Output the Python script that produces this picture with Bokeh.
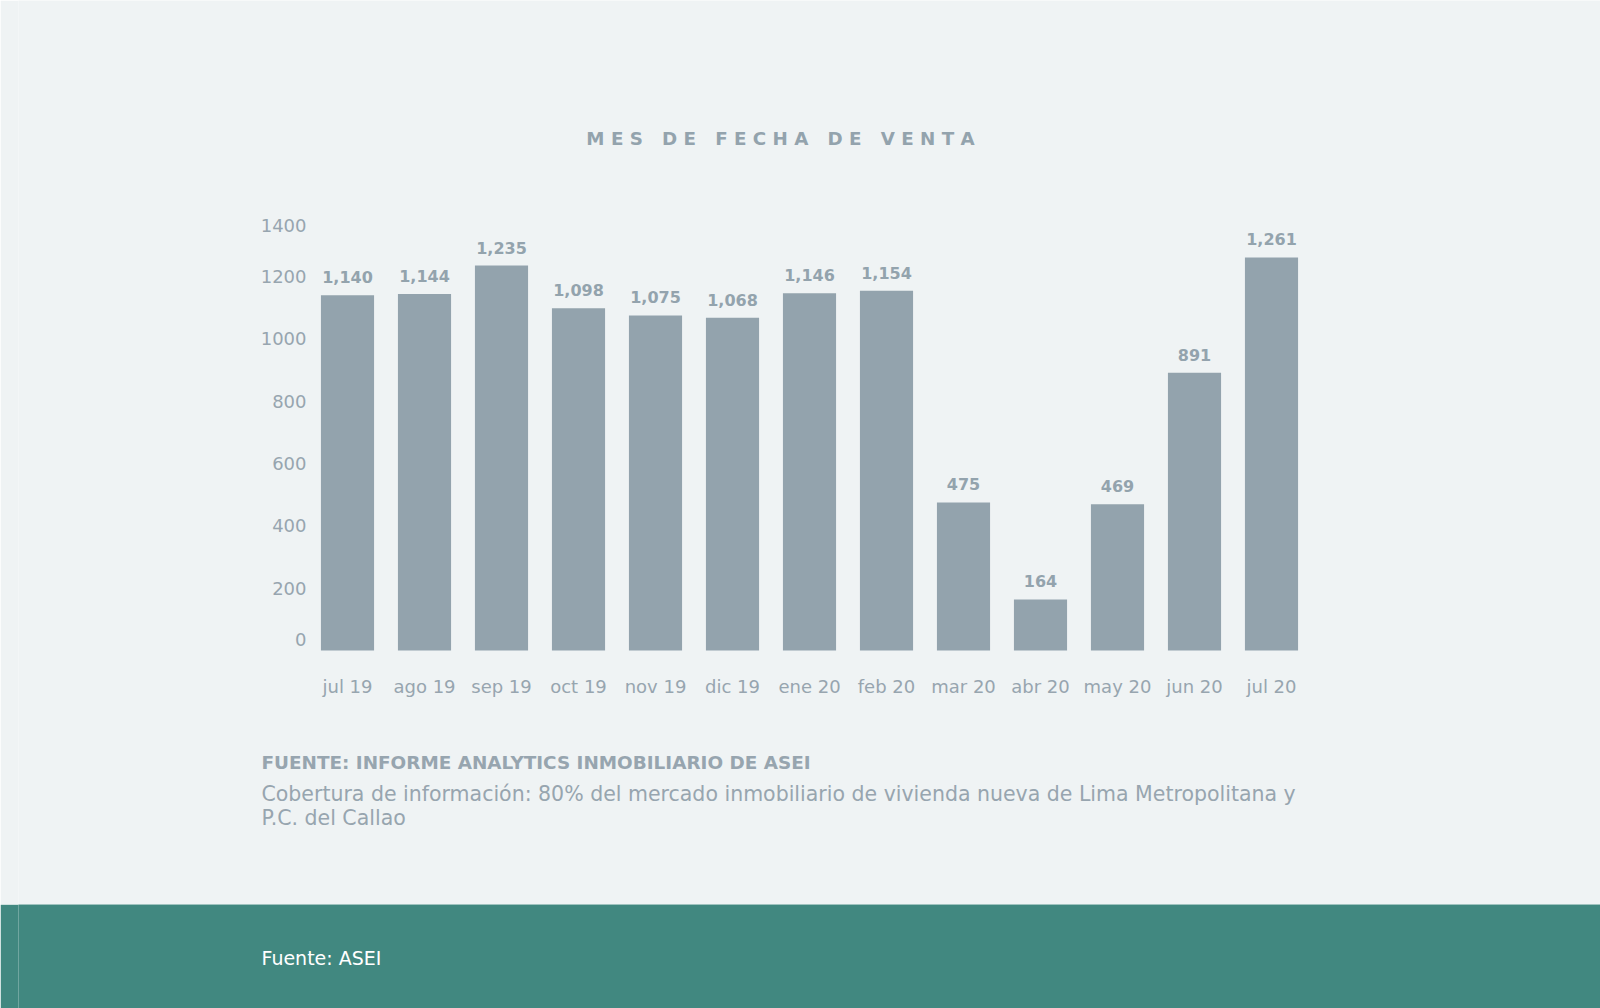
from bokeh.plotting import figure
from bokeh.models import FactorRange, Range1d, ColumnDataSource, LinearScale
from bokeh.layouts import column
from bokeh.core.properties import value
from bokeh.embed import file_html
from bokeh.resources import INLINE

months = ["jul 19", "ago 19", "sep 19", "oct 19", "nov 19", "dic 19", "ene 20",
          "feb 20", "mar 20", "abr 20", "may 20", "jun 20", "jul 20"]
sales = [1140, 1144, 1235, 1098, 1075, 1068, 1146, 1154, 475, 164, 469, 891, 1261]
y_ticks = [0, 200, 400, 600, 800, 1000, 1200, 1400]

title_text = "MES DE FECHA DE VENTA"
source_title = "FUENTE: INFORME ANALYTICS INMOBILIARIO DE ASEI"
coverage_lines = ["Cobertura de información: 80% del mercado inmobiliario de vivienda nueva de Lima Metropolitana y",
                  "P.C. del Callao"]
footer_text = "Fuente: ASEI"

BG = "#eff3f4"
BAR = "#93a3ad"
TXT = "#97a5af"
TEAL = "#418880"
FONT = "DejaVu Sans"
W = 1600
LB = 18            # left border so the bar block sits where the reference has it
H2 = 904
H3 = 1008 - H2
STEP = 77.0        # pixels per category
PX_PER_UNIT = 0.31166
ZERO_FROM_BOTTOM = 254

def spaced(s):
    words = s.split(" ")
    return " \u00a0 ".join(" ".join(list(w)) for w in words)

frame_w = W - LB
pad = (frame_w / STEP - len(months)) / 2.0

def cx(px):
    """canvas pixel -> synthetic categorical coordinate"""
    return (px - LB) / STEP - pad

y_start = -ZERO_FROM_BOTTOM / PX_PER_UNIT
y_end = (H2 - ZERO_FROM_BOTTOM) / PX_PER_UNIT

p = figure(width=W, height=H2,
           x_range=FactorRange(*months, range_padding=pad, range_padding_units="absolute"),
           y_range=Range1d(y_start, y_end), output_backend="svg", toolbar_location=None,
           min_border_left=LB, min_border_right=0, min_border_top=0, min_border_bottom=0,
           background_fill_color=BG, border_fill_color=BG, outline_line_color=None,
           x_axis_type=None, y_axis_type=None)
p.grid.visible = False
p.extra_y_ranges = {"px": Range1d(H2, 0)}
p.extra_y_scales = {"px": LinearScale()}

src = ColumnDataSource(dict(m=months, v=sales, lab=[f"{s:,}" for s in sales],
                            zero=[0] * len(months)))
p.vbar(x="m", top="v", width=0.69, source=src, color=BAR, line_color=None)
p.text(x="m", y="v", text="lab", source=src, text_align="center", text_baseline="bottom",
       y_offset=-12, text_font=value(FONT), text_font_style="bold", text_font_size="16px",
       text_color=BAR)
p.text(x="m", y="zero", text="m", source=src, text_align="center", text_baseline="middle",
       y_offset=36, text_font=value(FONT), text_font_size="18px", text_color=TXT)

# value-axis labels; the two extreme labels are pulled inward like the reference
tick_src = ColumnDataSource(dict(
    y=y_ticks, lab=[str(t) for t in y_ticks], x=[cx(306)] * len(y_ticks),
    off=[-11 if t == min(y_ticks) else 11 if t == max(y_ticks) else 0 for t in y_ticks]))
p.text(x="x", y="y", text="lab", source=tick_src, y_offset="off",
       text_align="right", text_baseline="middle", text_font=value(FONT),
       text_font_size="18px", text_color=TXT)

def txt(fig, x, y, s, **kw):
    opts = dict(text_font=value(FONT), text_font_size="18px", text_color=TXT,
                text_baseline="middle", y_range_name="px")
    opts.update(kw)
    fig.text(x=[cx(x)], y=[y], text=[s], **opts)

txt(p, 780, 138, spaced(title_text), text_align="center", text_font_style="bold",
    text_color=BAR, text_font_size="18.3px")
txt(p, 261, 762, source_title, text_font_style="bold", text_font_size="18.4px")
txt(p, 261, 793, coverage_lines[0], text_font_size="20.5px")
txt(p, 261, 817, coverage_lines[1], text_font_size="20.5px")

foot = figure(width=W, height=H3, x_range=Range1d(LB, W), y_range=Range1d(H3, 0),
              output_backend="svg", toolbar_location=None,
              min_border_left=LB, min_border_right=0, min_border_top=0, min_border_bottom=0,
              background_fill_color=TEAL, border_fill_color=TEAL, outline_line_color=None,
              x_axis_type=None, y_axis_type=None)
foot.grid.visible = False
foot.text(x=[261], y=[53], text=[footer_text], text_baseline="middle",
          text_font=value(FONT), text_font_size="19px", text_color="#ffffff")

layout = column(p, foot, spacing=0)
open("out.html", "w").write(file_html(layout, INLINE))
